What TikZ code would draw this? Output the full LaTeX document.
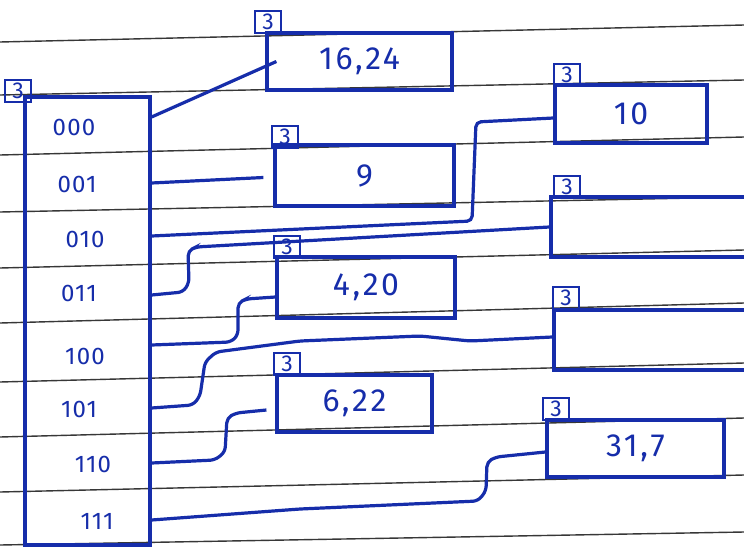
\documentclass[tikz,border=0pt]{standalone}
\usepackage{fontspec}
\setmainfont{Fira Sans}
\definecolor{ink}{RGB}{22,45,170}
\definecolor{rulec}{RGB}{55,55,55}
\begin{document}
\begin{tikzpicture}[x=1pt,y=-1pt,
  bucket/.style={draw=ink, line width=3.2pt, rectangle, inner sep=0pt, text=ink, font=\fontsize{32}{36}\selectfont\addfontfeatures{LetterSpace=8}},
  dirbox/.style={draw=ink, line width=3.2pt, rectangle, inner sep=0pt},
  depthbox/.style={draw=ink, line width=2.6pt, rectangle, inner sep=1pt, minimum width=26pt, minimum height=22pt, text=ink, font=\fontsize{23}{25}\selectfont},
  slot/.style={text=ink, font=\fontsize{24}{26}\selectfont\addfontfeatures{LetterSpace=5}},
  link/.style={draw=ink, line width=3.2pt, rounded corners=5pt},
  rule/.style={draw=rulec, line width=1.4pt}]
\useasboundingbox (0,0) rectangle (744,549);
\fill[white] (0,0) rectangle (744,549);
% ruled notebook lines
\foreach \a/\b in {42/25, 95/80, 155/137, 212/197, 268/250, 323/303, 382/363, 437/418, 492/475, 545/532}
  \draw[rule] (0,\a) -- (744,\b);
% directory
\node[dirbox, minimum width=125pt, minimum height=448pt] (dir) at (87.5,321) {};
\node[depthbox] (k0) at (18,91) {3};
\node[slot] (s0) at (74,127) {000};
\node[slot] (s1) at (77,184) {001};
\node[slot] (s2) at (85,239) {010};
\node[slot] (s3) at (79,293) {011};
\node[slot] (s4) at (85,356) {100};
\node[slot] (s5) at (79,409) {101};
\node[slot] (s6) at (93,464) {110};
\node[slot] (s7) at (97,521) {111};
\coordinate (d0) at (dir.east |- 0,117);
\coordinate (d1) at (dir.east |- 0,183);
\coordinate (d2) at (dir.east |- 0,236);
\coordinate (d3) at (dir.east |- 0,295);
\coordinate (d4) at (dir.east |- 0,345);
\coordinate (d5) at (dir.east |- 0,408);
\coordinate (d6) at (dir.east |- 0,463);
\coordinate (d7) at (dir.east |- 0,520);
% buckets
\node[bucket, minimum width=185pt, minimum height=57pt] (B1) at (359.5,61.5) {16,24};
\node[bucket, minimum width=179pt, minimum height=61pt] (B2) at (364.5,175.5) {9};
\node[bucket, minimum width=152pt, minimum height=58pt] (B3) at (631,114) {10};
\node[bucket, minimum width=219pt, minimum height=60pt] (B4) at (660.5,227) {};
\node[bucket, minimum width=178pt, minimum height=61pt] (B5) at (366,287.5) {4,20};
\node[bucket, minimum width=216pt, minimum height=60pt] (B6) at (662,340) {};
\node[bucket, minimum width=155pt, minimum height=57pt] (B7) at (354.5,403.5) {6,22};
\node[bucket, minimum width=177pt, minimum height=57pt] (B8) at (635.5,448.5) {31,7};
% local depths
\node[depthbox] (k1) at (268,22) {3};
\node[depthbox] (k2) at (285,137) {3};
\node[depthbox] (k3) at (567,75) {3};
\node[depthbox] (k4) at (567,187) {3};
\node[depthbox] (k5) at (287,247) {3};
\node[depthbox] (k6) at (566,298) {3};
\node[depthbox] (k7) at (287,364) {3};
\node[depthbox] (k8) at (556,409) {3};
% pointers
\draw[link] (d0) -- ([xshift=11pt]B1.west);
\draw[link] (d1) -- ([xshift=-10pt,yshift=-2pt]B2.west);
\draw[link] (d2) -- (472,221) -- (476,122) -- (B3.west |- 0,118);
\draw[link] (d3) -- (183,292) -- (189,283) -- (188,251) -- (196,247) -- (B4.west);
\draw[link] (d4) -- (231,342) -- (238,335) -- (238,303) -- (246,299) -- (B5.west |- 0,297);
\draw[link] (d5) -- (193,405) -- (200,396) -- (205,362) -- (216,352) -- (300,341) -- (420,336) -- (470,341) -- (B6.west |- 0,337);
\draw[link] (d6) -- (215,460) -- (225,452) -- (227,418) -- (236,413) -- ([xshift=-9pt]B7.west |- 0,410);
\draw[link] (d7) -- (300,509) -- (478,501) -- (486,491) -- (487,462) -- (496,457) -- (B8.west |- 0,452);
\end{tikzpicture}
\end{document}
